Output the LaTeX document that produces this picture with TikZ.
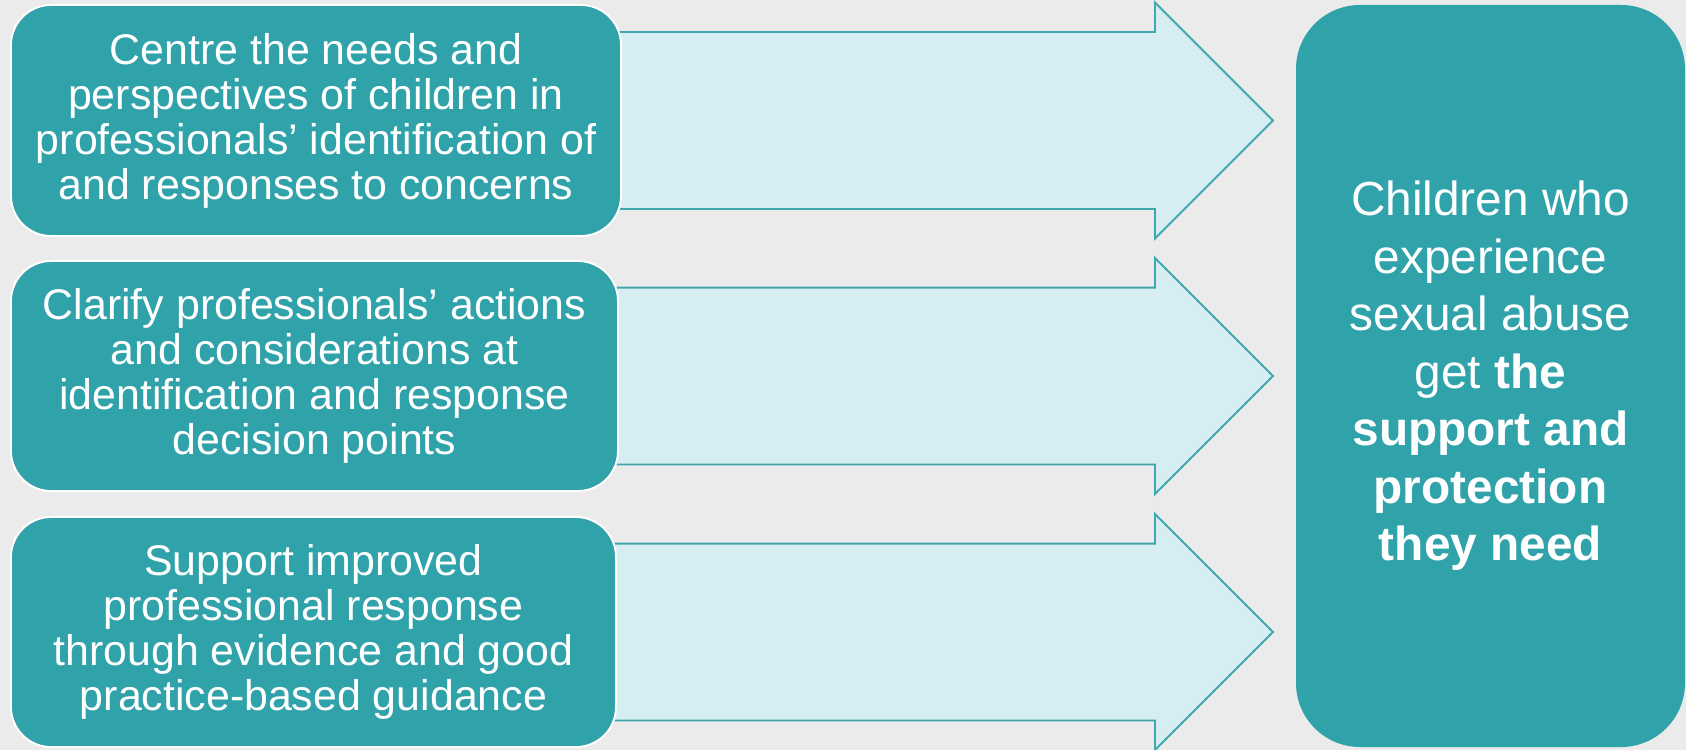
\documentclass[tikz,border=0pt]{standalone}
\usepackage{fontspec}
\setmainfont{Liberation Sans}
\usetikzlibrary{shapes.arrows}
\definecolor{teal1}{RGB}{48,162,170}
\definecolor{pale}{RGB}{214,238,241}
\definecolor{edge}{RGB}{62,168,174}
\definecolor{bg}{RGB}{235,235,235}
\begin{document}
\begin{tikzpicture}[scale=0.2]
\tikzstyle{every node}+=[inner sep=0pt]
\tikzstyle{flow}=[single arrow, draw=edge, fill=pale, line width=1.1pt, anchor=tail,
  inner xsep=0pt, inner ysep=1.75cm, minimum height=13.44cm,
  single arrow head extend=0.59cm, single arrow tip angle=90]
\tikzstyle{aim}=[rectangle, rounded corners=0.8cm, fill=teal1, draw=white, line width=1.1pt,
  text=white, align=center, font=\fontsize{24.4}{25.6}\selectfont]
\tikzstyle{goal}=[rectangle, rounded corners=1.28cm, fill=teal1, text=white, align=center,
  font=\fontsize{27.2}{32.7}\selectfont, minimum width=7.78cm, minimum height=14.84cm]
\fill [bg] (0,0) rectangle (168.6,-75);
\useasboundingbox (0,0) rectangle (168.6,-75);
% arrows
\node [flow] (a1) at (60,-12.05) {};
\node [flow] (a2) at (60,-37.6) {};
\node [flow] (a3) at (60,-63.2) {};
% boxes
\node [aim, minimum width=12.2cm, minimum height=4.62cm] (b1) at (31.6,-12.05)
  {Centre the needs and\\perspectives of children in\\professionals’ identification of\\and responses to concerns};
\node [aim, minimum width=12.14cm, minimum height=4.6cm] (b2) at (31.45,-37.6)
  {Clarify professionals’ actions\\and considerations at\\identification and response\\decision points};
\node [aim, minimum width=12.1cm, minimum height=4.6cm] (b3) at (31.35,-63.2)
  {Support improved\\professional response\\through evidence and good\\practice-based guidance};
\node [goal] (g) at (149.05,-37.6)
  {Children who\\experience\\sexual abuse\\get \textbf{the}\\\textbf{support and}\\\textbf{protection}\\\textbf{they need}};
\end{tikzpicture}
\end{document}
